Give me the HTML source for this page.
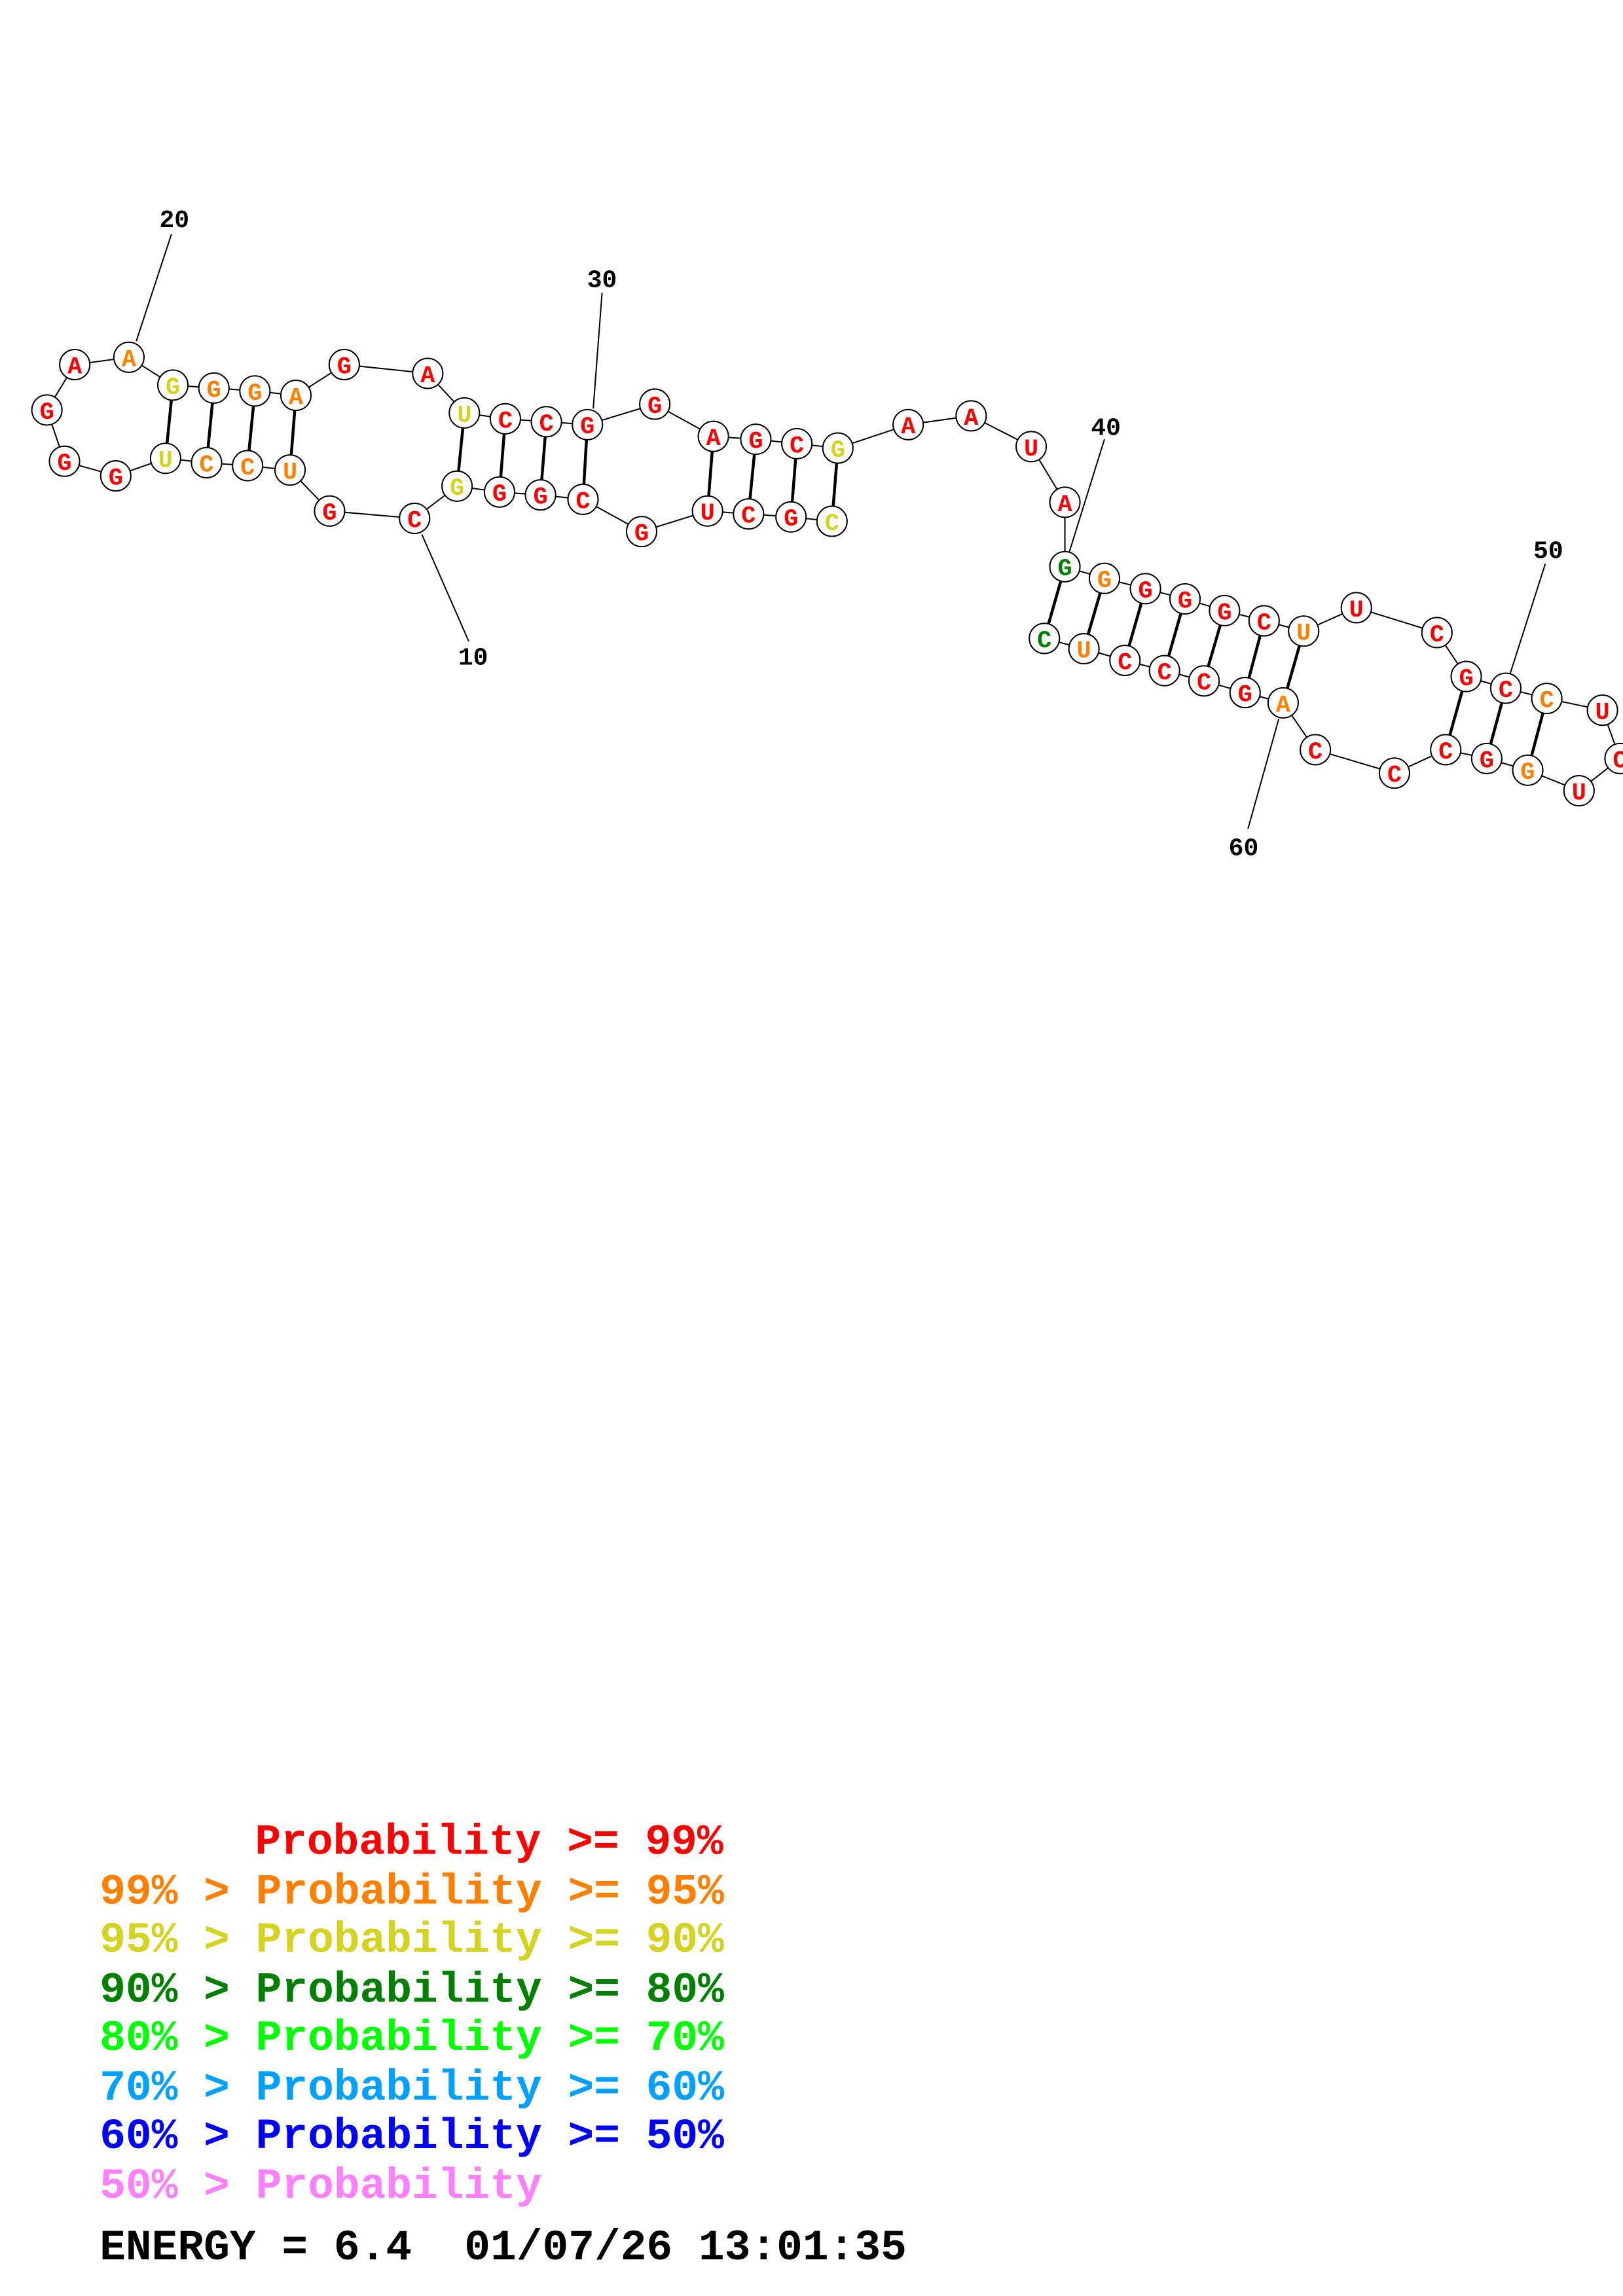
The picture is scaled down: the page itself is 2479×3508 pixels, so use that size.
<!DOCTYPE html>
<html><head><meta charset="utf-8"><style>html,body{margin:0;padding:0;background:#fff}svg{display:block}</style></head>
<body>
<svg width="2479" height="3508" viewBox="0 0 1108 1568" xmlns="http://www.w3.org/2000/svg">
<rect width="1108" height="1568" fill="#fff"/>
<g stroke="#000" stroke-width="0.9" fill="none">
<polyline points="568,356 540,353 511,351 483,349 438,363 398,341 369,338 341,336 312,332 283,354 225,349 198,321 169,318 141,316 113,313 79,325 44,315 32,280 51,249 88,244 118,263 146,265 174,267 202,270 235,249 292,255 317,282 345,286 373,288 401,290 447,276 487,298 516,300 544,303 572,306 620,290 663,284 704,305 727,343 727,387 754,395 782,402 809,409 836,417 863,424 890,431 926,415 981,432 1001,462 1028,470 1056,477 1094,485 1106,518 1078,540 1043,526 1015,518 987,512 952,528 898,512 876,480 850,473 822,465 795,458 768,451 740,443 713,436"/>
<line x1="288" y1="365" x2="320" y2="438"/>
<line x1="93" y1="233" x2="117" y2="160"/>
<line x1="405" y1="279" x2="411" y2="200"/>
<line x1="730" y1="377" x2="754" y2="300"/>
<line x1="1031" y1="460" x2="1055" y2="385"/>
<line x1="873" y1="491" x2="852" y2="566"/>
</g>
<g stroke="#000" stroke-width="2">
<line x1="118" y1="263" x2="113" y2="313"/><line x1="146" y1="265" x2="141" y2="316"/><line x1="174" y1="267" x2="169" y2="318"/><line x1="202" y1="270" x2="198" y2="321"/>
<line x1="317" y1="282" x2="312" y2="332"/><line x1="345" y1="286" x2="341" y2="336"/><line x1="373" y1="288" x2="369" y2="338"/><line x1="401" y1="290" x2="398" y2="341"/>
<line x1="487" y1="298" x2="483" y2="349"/><line x1="516" y1="300" x2="511" y2="351"/><line x1="544" y1="303" x2="540" y2="353"/><line x1="572" y1="306" x2="568" y2="356"/>
<line x1="727" y1="387" x2="713" y2="436"/><line x1="754" y1="395" x2="740" y2="443"/><line x1="782" y1="402" x2="768" y2="451"/><line x1="809" y1="409" x2="795" y2="458"/><line x1="836" y1="417" x2="822" y2="465"/><line x1="863" y1="424" x2="850" y2="473"/><line x1="890" y1="431" x2="876" y2="480"/>
<line x1="1001" y1="462" x2="987" y2="512"/><line x1="1028" y1="470" x2="1015" y2="518"/><line x1="1056" y1="477" x2="1043" y2="526"/>
</g>
<g fill="#fff" stroke="#000" stroke-width="0.9">
<circle cx="568" cy="356" r="10.3"/><circle cx="540" cy="353" r="10.3"/><circle cx="511" cy="351" r="10.3"/><circle cx="483" cy="349" r="10.3"/><circle cx="438" cy="363" r="10.3"/><circle cx="398" cy="341" r="10.3"/><circle cx="369" cy="338" r="10.3"/><circle cx="341" cy="336" r="10.3"/><circle cx="312" cy="332" r="10.3"/><circle cx="283" cy="354" r="10.3"/><circle cx="225" cy="349" r="10.3"/><circle cx="198" cy="321" r="10.3"/><circle cx="169" cy="318" r="10.3"/><circle cx="141" cy="316" r="10.3"/><circle cx="113" cy="313" r="10.3"/><circle cx="79" cy="325" r="10.3"/><circle cx="44" cy="315" r="10.3"/><circle cx="32" cy="280" r="10.3"/><circle cx="51" cy="249" r="10.3"/><circle cx="88" cy="244" r="10.3"/><circle cx="118" cy="263" r="10.3"/><circle cx="146" cy="265" r="10.3"/><circle cx="174" cy="267" r="10.3"/><circle cx="202" cy="270" r="10.3"/><circle cx="235" cy="249" r="10.3"/><circle cx="292" cy="255" r="10.3"/><circle cx="317" cy="282" r="10.3"/><circle cx="345" cy="286" r="10.3"/><circle cx="373" cy="288" r="10.3"/><circle cx="401" cy="290" r="10.3"/><circle cx="447" cy="276" r="10.3"/><circle cx="487" cy="298" r="10.3"/><circle cx="516" cy="300" r="10.3"/><circle cx="544" cy="303" r="10.3"/><circle cx="572" cy="306" r="10.3"/><circle cx="620" cy="290" r="10.3"/><circle cx="663" cy="284" r="10.3"/><circle cx="704" cy="305" r="10.3"/><circle cx="727" cy="343" r="10.3"/><circle cx="727" cy="387" r="10.3"/><circle cx="754" cy="395" r="10.3"/><circle cx="782" cy="402" r="10.3"/><circle cx="809" cy="409" r="10.3"/><circle cx="836" cy="417" r="10.3"/><circle cx="863" cy="424" r="10.3"/><circle cx="890" cy="431" r="10.3"/><circle cx="926" cy="415" r="10.3"/><circle cx="981" cy="432" r="10.3"/><circle cx="1001" cy="462" r="10.3"/><circle cx="1028" cy="470" r="10.3"/><circle cx="1056" cy="477" r="10.3"/><circle cx="1094" cy="485" r="10.3"/><circle cx="1106" cy="518" r="10.3"/><circle cx="1078" cy="540" r="10.3"/><circle cx="1043" cy="526" r="10.3"/><circle cx="1015" cy="518" r="10.3"/><circle cx="987" cy="512" r="10.3"/><circle cx="952" cy="528" r="10.3"/><circle cx="898" cy="512" r="10.3"/><circle cx="876" cy="480" r="10.3"/><circle cx="850" cy="473" r="10.3"/><circle cx="822" cy="465" r="10.3"/><circle cx="795" cy="458" r="10.3"/><circle cx="768" cy="451" r="10.3"/><circle cx="740" cy="443" r="10.3"/><circle cx="713" cy="436" r="10.3"/>
</g>
<g font-family="Liberation Mono, monospace" font-weight="bold" font-size="16.5" text-anchor="middle" fill="#f00">
<text x="568" y="362" fill="#d4d420">C</text><text x="540" y="359">G</text><text x="511" y="357">C</text><text x="483" y="355">U</text><text x="438" y="369">G</text><text x="398" y="347">C</text><text x="369" y="344">G</text><text x="341" y="342">G</text><text x="312" y="338" fill="#d4d420">G</text><text x="283" y="360">C</text><text x="225" y="355">G</text><text x="198" y="327" fill="#ff8000">U</text><text x="169" y="324" fill="#ff8000">C</text><text x="141" y="322" fill="#ff8000">C</text><text x="113" y="319" fill="#d4d420">U</text><text x="79" y="331">G</text><text x="44" y="321">G</text><text x="32" y="286">G</text><text x="51" y="255">A</text><text x="88" y="250" fill="#ff8000">A</text><text x="118" y="269" fill="#d4d420">G</text><text x="146" y="271" fill="#ff8000">G</text><text x="174" y="273" fill="#ff8000">G</text><text x="202" y="276" fill="#ff8000">A</text><text x="235" y="255">G</text><text x="292" y="261">A</text><text x="317" y="288" fill="#d4d420">U</text><text x="345" y="292">C</text><text x="373" y="294">C</text><text x="401" y="296">G</text><text x="447" y="282">G</text><text x="487" y="304">A</text><text x="516" y="306">G</text><text x="544" y="309">C</text><text x="572" y="312" fill="#d4d420">G</text><text x="620" y="296">A</text><text x="663" y="290">A</text><text x="704" y="311">U</text><text x="727" y="349">A</text><text x="727" y="393" fill="#008000">G</text><text x="754" y="401" fill="#ff8000">G</text><text x="782" y="408">G</text><text x="809" y="415">G</text><text x="836" y="423">G</text><text x="863" y="430">C</text><text x="890" y="437" fill="#ff8000">U</text><text x="926" y="421">U</text><text x="981" y="438">C</text><text x="1001" y="468">G</text><text x="1028" y="476">C</text><text x="1056" y="483" fill="#ff8000">C</text><text x="1094" y="491">U</text><text x="1106" y="524">C</text><text x="1078" y="546">U</text><text x="1043" y="532" fill="#ff8000">G</text><text x="1015" y="524">G</text><text x="987" y="518">C</text><text x="952" y="534">C</text><text x="898" y="518">C</text><text x="876" y="486" fill="#ff8000">A</text><text x="850" y="479">G</text><text x="822" y="471">C</text><text x="795" y="464">C</text><text x="768" y="457">C</text><text x="740" y="449" fill="#ff8000">U</text><text x="713" y="442" fill="#008000">C</text>
</g>
<g font-family="Liberation Mono, monospace" font-weight="bold" font-size="17" text-anchor="middle" fill="#000">
<text x="323" y="454">10</text><text x="119" y="155">20</text><text x="411" y="196">30</text><text x="755" y="297">40</text><text x="1057" y="381">50</text><text x="849" y="584">60</text>
</g>
<g font-family="Liberation Mono, monospace" font-weight="bold" font-size="29.6">
<text x="174" y="1266" fill="#ff0000">Probability &gt;= 99%</text>
<text x="68" y="1300" fill="#ff8000">99% &gt; Probability &gt;= 95%</text>
<text x="68" y="1333" fill="#d4d420">95% &gt; Probability &gt;= 90%</text>
<text x="68" y="1367" fill="#008000">90% &gt; Probability &gt;= 80%</text>
<text x="68" y="1400" fill="#00ff00">80% &gt; Probability &gt;= 70%</text>
<text x="68" y="1434" fill="#00a0ff">70% &gt; Probability &gt;= 60%</text>
<text x="68" y="1467" fill="#0000ff">60% &gt; Probability &gt;= 50%</text>
<text x="68" y="1501" fill="#ff80ff">50% &gt; Probability</text>
<text x="68" y="1543" fill="#000">ENERGY = 6.4<tspan x="317">01/07/26 13:01:35</tspan></text>
</g>
</svg>
</body></html>
